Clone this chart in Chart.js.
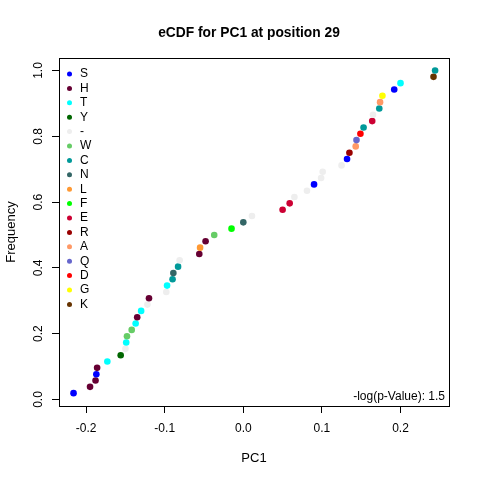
<!DOCTYPE html>
<html>
<head>
<meta charset="utf-8">
<script src="https://cdn.jsdelivr.net/npm/chart.js@4"></script>
<style>
  body { margin: 0; background: #fff; }
  canvas { display: block; }
</style>
</head>
<body>
<canvas id="chart" width="480" height="480"></canvas>
<script>
// PC1 value of each sequence at position 29, sorted, with its residue
var pcValues = [
  -0.216, -0.195, -0.188, -0.187, -0.186, -0.173, -0.156, -0.150, -0.149, -0.148,
  -0.142, -0.137, -0.135, -0.130, -0.122, -0.120, -0.098, -0.097, -0.090, -0.089,
  -0.083, -0.081, -0.056, -0.055, -0.048, -0.037, -0.015, 0.000, 0.011, 0.050,
  0.059, 0.065, 0.081, 0.090, 0.099, 0.101, 0.125, 0.132, 0.135, 0.143,
  0.144, 0.149, 0.153, 0.164, 0.165, 0.173, 0.174, 0.177, 0.192, 0.200,
  0.242, 0.244
];
var residues = [
  'S', 'H', 'H', 'S', 'H', 'T', 'Y', '-', 'T', 'W',
  'W', 'T', 'H', 'T', '-', 'H', '-', 'T', 'C', 'N',
  'C', '-', 'H', 'L', 'H', 'W', 'F', 'N', '-', 'E',
  'E', '-', '-', 'S', '-', '-', '-', 'S', 'R', 'A',
  'Q', 'D', 'C', 'E', '-', 'C', 'A', 'G', 'S', 'T',
  'K', 'C'
];

// legend order and colours
var legendResidues = ['S', 'H', 'T', 'Y', '-', 'W', 'C', 'N', 'L', 'F', 'E', 'R', 'A', 'Q', 'D', 'G', 'K'];
var legendColors = ['#0000FF', '#660033', '#00FFFF', '#006600', '#EEEEEE', '#66CC66', '#009999', '#336666',
  '#FF9933', '#00FF00', '#CC0033', '#990000', '#FF9966', '#6666CC', '#FF0000', '#FFFF00', '#663300'];

var xTicks = [-0.2, -0.1, 0.0, 0.1, 0.2];
var yTicks = [0.0, 0.2, 0.4, 0.6, 0.8, 1.0];
var titleText = 'eCDF for PC1 at position 29';
var pValueLabel = '-log(p-Value): 1.5';

var FONT = '"Liberation Sans", Arial, sans-serif';

// empirical CDF: rank / n
var n = pcValues.length;
var points = pcValues.map(function (v, i) {
  return { x: v, y: (i + 1) / n };
});
var pointColors = residues.map(function (r) {
  return legendColors[legendResidues.indexOf(r)];
});

// box, title, legend and p-value text drawn round the plot region
var boxPlugin = {
  id: 'boxLegend',
  afterDraw: function (chart) {
    var ctx = chart.ctx;
    var a = chart.chartArea;
    ctx.save();
    ctx.strokeStyle = '#000';
    ctx.lineWidth = 1;
    ctx.strokeRect(Math.round(a.left) + 0.5, Math.round(a.top) + 0.5,
      Math.round(a.right - a.left), Math.round(a.bottom - a.top));

    // title, centred over the plot region like R does
    ctx.fillStyle = '#000';
    ctx.font = 'bold 13.8px ' + FONT;
    ctx.textAlign = 'center';
    ctx.textBaseline = 'middle';
    ctx.fillText(titleText, (a.left + a.right) / 2 - 5, 33);

    ctx.font = '12px ' + FONT;
    ctx.textAlign = 'left';
    legendResidues.forEach(function (r, i) {
      var y = a.top + 16 + i * 14.4;
      ctx.fillStyle = legendColors[i];
      ctx.beginPath();
      ctx.arc(a.left + 10.5, y, 2.5, 0, Math.PI * 2);
      ctx.fill();
      ctx.fillStyle = '#000';
      ctx.fillText(r, a.left + 21, y);
    });

    ctx.textAlign = 'right';
    ctx.fillText(pValueLabel, a.right - 4, a.bottom - 9.5);
    ctx.restore();
  }
};

var ctx = document.getElementById('chart').getContext('2d');
var chart = new Chart(ctx, {
  type: 'scatter',
  data: {
    datasets: [{
      label: 'eCDF',
      data: points,
      backgroundColor: pointColors,
      borderWidth: 0,
      pointRadius: 3.3,
      pointHoverRadius: 3.3
    }]
  },
  options: {
    responsive: false,
    animation: false,
    devicePixelRatio: 1,
    layout: { padding: { top: 58, right: 31, bottom: 0, left: 0 } },
    plugins: {
      legend: { display: false },
      tooltip: { enabled: false },
      title: { display: false }
    },
    scales: {
      x: {
        type: 'linear',
        min: -0.2345,
        max: 0.2617,
        afterBuildTicks: function (scale) {
          scale.ticks = xTicks.map(function (v) { return { value: v }; });
        },
        afterFit: function (scale) { scale.height = 74; },
        ticks: {
          color: '#000',
          font: { family: FONT, size: 12 },
          padding: 8,
          maxRotation: 0,
          callback: function (v) { return v.toFixed(1); }
        },
        grid: { drawOnChartArea: false, drawTicks: true, tickLength: 7, tickColor: '#000', lineWidth: 1 },
        border: { display: false },
        title: {
          display: true,
          text: 'PC1',
          color: '#000',
          font: { family: FONT, size: 13, lineHeight: 1.2 },
          padding: { top: 0, bottom: 14 }
        }
      },
      y: {
        type: 'linear',
        min: -0.0198,
        max: 1.038,
        afterBuildTicks: function (scale) {
          scale.ticks = yTicks.map(function (v) { return { value: v }; });
        },
        afterFit: function (scale) { scale.width = 59; },
        ticks: {
          color: '#000',
          font: { family: FONT, size: 12 },
          padding: 5,
          minRotation: 90,
          maxRotation: 90,
          crossAlign: 'center',
          callback: function (v) { return v.toFixed(1); }
        },
        grid: { drawOnChartArea: false, drawTicks: true, tickLength: 7, tickColor: '#000', lineWidth: 1 },
        border: { display: false },
        title: {
          display: true,
          text: 'Frequency',
          color: '#000',
          font: { family: FONT, size: 13, lineHeight: 1.2 },
          padding: { top: 4, bottom: 0 }
        }
      }
    }
  },
  plugins: [boxPlugin]
});
</script>
</body>
</html>
